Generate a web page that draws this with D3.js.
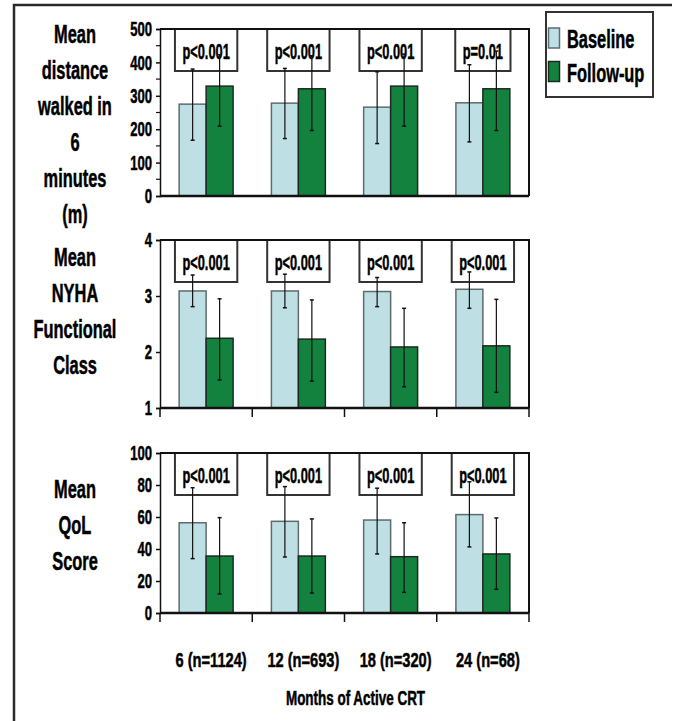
<!DOCTYPE html>
<html>
<head>
<meta charset="utf-8">
<script src="https://cdn.jsdelivr.net/npm/d3@7"></script>
<style>
body { margin: 0; background: #fff; }
text { font-family: 'Liberation Sans Narrow', 'Arial Narrow', 'Liberation Sans', Arial, sans-serif; font-weight: bold; fill: #000; stroke: #000; stroke-width: 0.5px; }
</style>
</head>
<body>
<svg id="chart" width="674" height="721"></svg>
<script>
// categories and series
const months = ["6 (n=1124)", "12 (n=693)", "18 (n=320)", "24 (n=68)"];
const seriesNames = ["Baseline", "Follow-up"];

// 6 minute walk (m)
const walkBase = [275, 278, 266, 279];
const walkBaseLo = [167, 172, 157, 162];
const walkBaseHi = [380, 382, 372, 393];
const walkFollow = [329, 321, 329, 321];
const walkFollowLo = [209, 196, 209, 196];
const walkFollowHi = [423, 420, 425, 434];
const walkP = ["p<0.001", "p<0.001", "p<0.001", "p=0.01"];
const walkTicks = [0, 100, 200, 300, 400, 500];

// NYHA class
const nyhaBase = [3.09, 3.09, 3.08, 3.12];
const nyhaBaseLo = [2.81, 2.79, 2.81, 2.78];
const nyhaBaseHi = [3.375, 3.39, 3.33, 3.43];
const nyhaFollow = [2.245, 2.23, 2.09, 2.11];
const nyhaFollowLo = [1.50, 1.48, 1.38, 1.28];
const nyhaFollowHi = [2.95, 2.93, 2.78, 2.94];
const nyhaP = ["p<0.001", "p<0.001", "p<0.001", "p<0.001"];
const nyhaTicks = [1, 2, 3, 4];

// QoL score
const qolBase = [56.4, 57.3, 58.1, 61.5];
const qolBaseLo = [34, 35, 36.9, 41.3];
const qolBaseHi = [78.3, 79, 78, 82];
const qolFollow = [35.6, 35.6, 35.2, 36.9];
const qolFollowLo = [11.9, 12.5, 12.9, 14.8];
const qolFollowHi = [59.6, 58.8, 56.4, 59.4];
const qolP = ["p<0.001", "p<0.001", "p<0.001", "p<0.001"];
const qolTicks = [0, 20, 40, 60, 80, 100];

const colors = {"Baseline": "#bee0e4", "Follow-up": "#13823f"};
const strokes = {"Baseline": "#5f6b6d", "Follow-up": "#1c2a22"};

const svg = d3.select("#chart");
svg.append("rect").attr("width", 674).attr("height", 721).attr("fill", "#fff");

// narrow font may be missing: squeeze harder if so
const probe = svg.append("text").style("font-size", "25px").text("Baseline");
const narrowW = probe.node().getComputedTextLength();
probe.style("font-family", "'Liberation Sans', Arial, sans-serif");
const wideW = probe.node().getComputedTextLength();
probe.remove();
const fontK = Math.abs(narrowW - wideW) < 0.5 ? 0.82 : 1;

function squeeze(sel, sx) {
  sel.each(function () {
    const t = d3.select(this);
    const x = +t.attr("x") || 0, y = +t.attr("y") || 0;
    t.attr("x", 0).attr("y", 0)
      .attr("transform", "translate(" + x + "," + y + ") scale(" + (sx * fontK) + ",1)");
  });
}

// outer frame
svg.append("path").attr("d", "M14,721V5H672")
  .attr("fill", "none").attr("stroke", "#2a2a2a").attr("stroke-width", 2.5);

const x = d3.scaleBand().domain(months).range([160, 529]);
const xs = d3.scaleBand().domain(seriesNames).range([0, x.bandwidth()]).paddingOuter(0.71);

const panels = [
  {label: ["Mean", "distance", "walked in", "6", "minutes", "(m)"], labelY: 43,
   top: 29, bottom: 196, domain: [0, 500], ticks: walkTicks, minor: true, catTicks: false,
   base: walkBase, baseLo: walkBaseLo, baseHi: walkBaseHi,
   fol: walkFollow, folLo: walkFollowLo, folHi: walkFollowHi, p: walkP},
  {label: ["Mean", "NYHA", "Functional", "Class"], labelY: 266,
   top: 240, bottom: 408, domain: [1, 4], ticks: nyhaTicks, minor: false, catTicks: true,
   base: nyhaBase, baseLo: nyhaBaseLo, baseHi: nyhaBaseHi,
   fol: nyhaFollow, folLo: nyhaFollowLo, folHi: nyhaFollowHi, p: nyhaP},
  {label: ["Mean", "QoL", "Score"], labelY: 498,
   top: 453, bottom: 613, domain: [0, 100], ticks: qolTicks, minor: false, catTicks: true,
   base: qolBase, baseLo: qolBaseLo, baseHi: qolBaseHi,
   fol: qolFollow, folLo: qolFollowLo, folHi: qolFollowHi, p: qolP}
];

panels.forEach(function (p) {
  const y = d3.scaleLinear().domain(p.domain).range([p.bottom, p.top]);
  const g = svg.append("g");

  // y title
  g.selectAll(".ylab").data(p.label).join("text")
    .attr("class", "ylab")
    .attr("x", 75).attr("y", (d, i) => p.labelY + i * 36)
    .attr("text-anchor", "middle").style("font-size", "25px")
    .text(d => d)
    .call(squeeze, 0.8);

  // p-value boxes
  const boxes = g.selectAll(".pbox").data(p.p).join("g").attr("class", "pbox");
  boxes.each(function (d, i) {
    const b = d3.select(this);
    const cx = x(months[i]) + x.bandwidth() / 2;
    const r = b.append("rect");
    const t = b.append("text").attr("x", cx).attr("y", p.top + 30)
      .attr("text-anchor", "middle").style("font-size", "22px").text(d)
      .call(squeeze, 0.71);
    const w = t.node().getComputedTextLength() * 0.71 * fontK + 15;
    r.attr("x", cx - w / 2).attr("y", p.top).attr("width", w).attr("height", 42)
      .attr("fill", "#fff").attr("stroke", "#333").attr("stroke-width", 2);
  });

  const rows = [];
  months.forEach(function (m, i) {
    rows.push({m: m, s: "Baseline", v: p.base[i], lo: p.baseLo[i], hi: p.baseHi[i]});
    rows.push({m: m, s: "Follow-up", v: p.fol[i], lo: p.folLo[i], hi: p.folHi[i]});
  });

  g.selectAll(".bar").data(rows).join("rect")
    .attr("class", "bar")
    .attr("x", d => x(d.m) + xs(d.s))
    .attr("y", d => y(d.v))
    .attr("width", xs.bandwidth())
    .attr("height", d => y(p.domain[0]) - y(d.v))
    .attr("fill", d => colors[d.s])
    .attr("stroke", d => strokes[d.s])
    .attr("stroke-width", 1.5);

  // error bars
  const eb = g.selectAll(".err").data(rows).join("g").attr("class", "err")
    .attr("transform", d => "translate(" + (x(d.m) + xs(d.s) + xs.bandwidth() / 2) + ",0)");
  eb.append("line").attr("y1", d => y(d.lo)).attr("y2", d => y(d.hi))
    .attr("stroke", "#111").attr("stroke-width", 1.2);
  eb.append("line").attr("x1", -2).attr("x2", 2).attr("y1", d => y(d.lo)).attr("y2", d => y(d.lo))
    .attr("stroke", "#111").attr("stroke-width", 1.5);
  eb.append("line").attr("x1", -2).attr("x2", 2).attr("y1", d => y(d.hi)).attr("y2", d => y(d.hi))
    .attr("stroke", "#111").attr("stroke-width", 1.5);

  // plot frame top and right
  g.append("path")
    .attr("d", "M160," + p.top + "H529V" + p.bottom)
    .attr("fill", "none").attr("stroke", "#111").attr("stroke-width", 2);

  // left axis
  const ax = g.append("g").attr("transform", "translate(160,0)")
    .call(d3.axisLeft(y).tickValues(p.ticks).tickSize(4).tickPadding(4).tickFormat(d3.format("d")));
  ax.select(".domain").attr("stroke", "#111").attr("stroke-width", 1.5);
  ax.selectAll(".tick line").attr("stroke", "#111").attr("stroke-width", 1.5);
  ax.selectAll(".tick text").style("font-size", "21px").attr("fill", "#000")
    .call(squeeze, 0.76);

  if (p.minor) {
    const minorTicks = d3.range(p.domain[0] + 50, p.domain[1], 100);
    g.selectAll(".minor").data(minorTicks).join("line")
      .attr("x1", 156).attr("x2", 160)
      .attr("y1", d => y(d)).attr("y2", d => y(d))
      .attr("stroke", "#111").attr("stroke-width", 1.2);
  }

  // bottom axis
  g.append("line").attr("x1", 160).attr("x2", 529)
    .attr("y1", p.bottom).attr("y2", p.bottom)
    .attr("stroke", "#111").attr("stroke-width", 2.5);
  if (p.catTicks) {
    const edges = months.map(m => x(m)).concat([x.range()[1]]);
    g.selectAll(".cat").data(edges).join("line")
      .attr("x1", d => d).attr("x2", d => d)
      .attr("y1", p.bottom).attr("y2", p.bottom + 9)
      .attr("stroke", "#111").attr("stroke-width", 1.5);
  }
});

// category labels
svg.selectAll(".month").data(months).join("text")
  .attr("class", "month")
  .attr("x", d => x(d) + x.bandwidth() / 2 + 5).attr("y", 667)
  .attr("text-anchor", "middle").style("font-size", "21px")
  .text(d => d)
  .call(squeeze, 0.85);

svg.append("text")
  .attr("x", (x.range()[0] + x.range()[1]) / 2 + 11).attr("y", 705)
  .attr("text-anchor", "middle").style("font-size", "20px")
  .text("Months of Active CRT")
  .call(squeeze, 0.82);

// legend
const legend = svg.append("g");
legend.append("rect").attr("x", 546).attr("y", 12).attr("width", 107).attr("height", 85)
  .attr("fill", "#fff").attr("stroke", "#333").attr("stroke-width", 2);
const li = legend.selectAll(".li").data(seriesNames).join("g").attr("class", "li");
li.append("rect")
  .attr("x", 548.5).attr("y", (d, i) => 28 + i * 33.5)
  .attr("width", 11).attr("height", 20)
  .attr("fill", d => colors[d]).attr("stroke", d => strokes[d]).attr("stroke-width", 1.5);
li.append("text")
  .attr("x", 567).attr("y", (d, i) => 48 + i * 34)
  .style("font-size", "25px")
  .text(d => d)
  .call(squeeze, 0.8);
</script>
</body>
</html>
